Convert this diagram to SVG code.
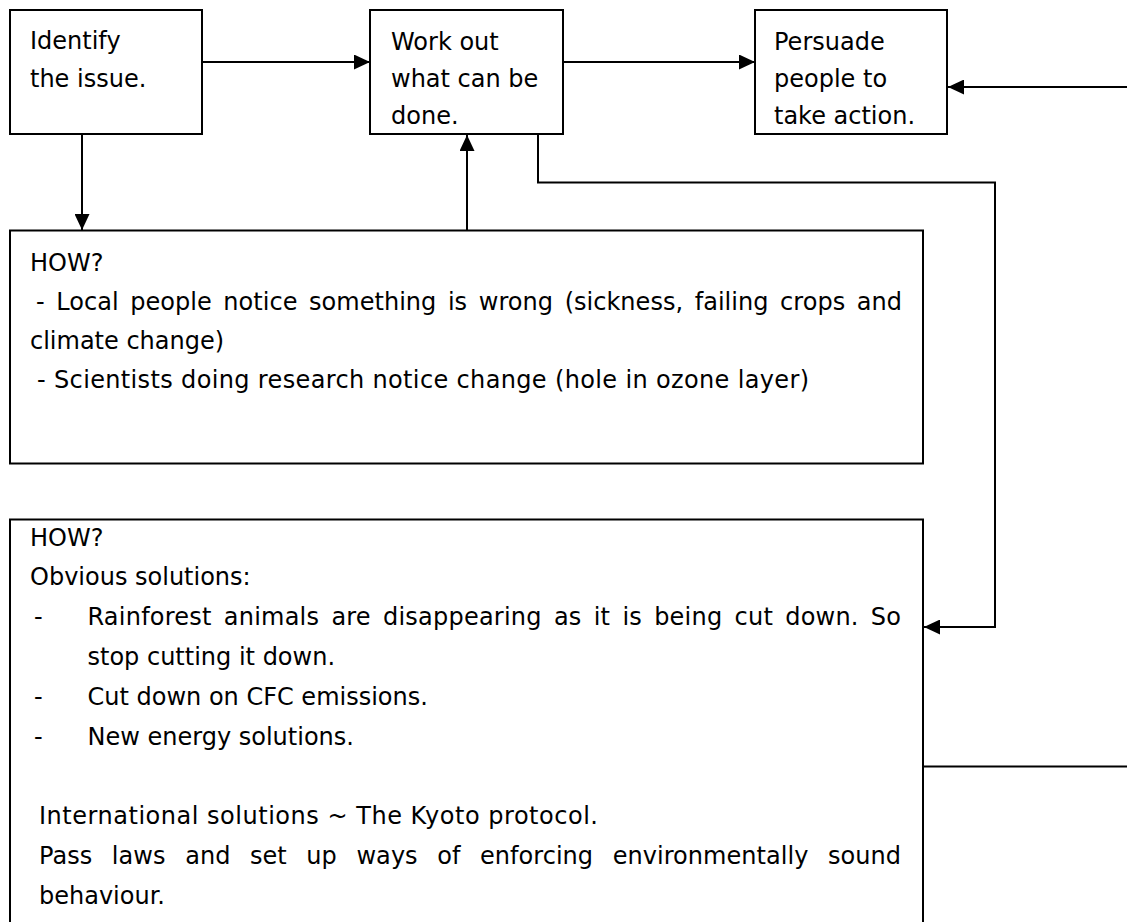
<svg xmlns="http://www.w3.org/2000/svg" width="1127" height="922" viewBox="0 0 1127 922">
  <style>
    .box { fill: #ffffff; stroke: #000000; stroke-width: 2; }
    .t { font-family: "DejaVu Sans", sans-serif; font-size: 24px; fill: #000000; }
    .c { fill: none; stroke: #000000; stroke-width: 2; }
  </style>
  <defs>
    <marker id="arr" viewBox="0 0 16 15" refX="16" refY="7.5" markerWidth="16" markerHeight="15" markerUnits="userSpaceOnUse" orient="auto">
      <path d="M0,0 L16,7.5 L0,15 z" fill="#000000"/>
    </marker>
  </defs>
  <rect width="1127" height="922" fill="#ffffff"/>

  <g id="identify">
    <rect class="box" x="10" y="10" width="192" height="124"/>
    <text class="t" x="30" y="49">Identify</text>
    <text class="t" x="30" y="87">the issue.</text>
  </g>

  <g id="work-out">
    <rect class="box" x="370" y="10" width="193" height="124"/>
    <text class="t" x="391" y="49.5">Work out</text>
    <text class="t" x="391" y="86.5">what can be</text>
    <text class="t" x="391" y="123.5">done.</text>
  </g>

  <g id="persuade">
    <rect class="box" x="755" y="10" width="192" height="124"/>
    <text class="t" x="774" y="49.5">Persuade</text>
    <text class="t" x="774" y="86.5">people to</text>
    <text class="t" x="774" y="123.5">take action.</text>
  </g>

  <g id="how-identify">
    <rect class="box" x="10" y="230.5" width="913" height="233"/>
    <text class="t" x="30" y="271">HOW?</text>
    <text class="t" x="36" y="310" word-spacing="4" textLength="866" lengthAdjust="spacing">- Local people notice something is wrong (sickness, failing crops and</text>
    <text class="t" x="30" y="349">climate change)</text>
    <text class="t" x="37" y="388" textLength="772" lengthAdjust="spacing">- Scientists doing research notice change (hole in ozone layer)</text>
  </g>

  <g id="how-solutions">
    <rect class="box" x="10" y="519.5" width="913" height="460"/>
    <text class="t" x="30" y="545.5">HOW?</text>
    <text class="t" x="30" y="585.3">Obvious solutions:</text>
    <text class="t" x="34" y="625.1">-</text>
    <text class="t" x="87.5" y="625.1" word-spacing="4.3" textLength="813.5" lengthAdjust="spacing">Rainforest animals are disappearing as it is being cut down. So</text>
    <text class="t" x="87.5" y="664.9">stop cutting it down.</text>
    <text class="t" x="34" y="704.7">-</text>
    <text class="t" x="87.5" y="704.7">Cut down on CFC emissions.</text>
    <text class="t" x="34" y="744.5">-</text>
    <text class="t" x="87.5" y="744.5">New energy solutions.</text>
    <text class="t" x="39" y="824.1" textLength="559" lengthAdjust="spacing">International solutions ~ The Kyoto protocol.</text>
    <text class="t" x="39" y="863.9" word-spacing="11.9" textLength="862" lengthAdjust="spacing">Pass laws and set up ways of enforcing environmentally sound</text>
    <text class="t" x="39" y="903.7">behaviour.</text>
  </g>

  <g id="connectors">
    <line class="c" x1="202" y1="62" x2="370" y2="62" marker-end="url(#arr)"/>
    <line class="c" x1="563" y1="62" x2="755" y2="62" marker-end="url(#arr)"/>
    <line class="c" x1="1127" y1="87" x2="948" y2="87" marker-end="url(#arr)"/>
    <line class="c" x1="82" y1="134" x2="82" y2="230" marker-end="url(#arr)"/>
    <line class="c" x1="467" y1="230" x2="467" y2="135" marker-end="url(#arr)"/>
    <polyline class="c" points="538,134 538,182.5 995,182.5 995,627 924,627" marker-end="url(#arr)"/>
    <line class="c" x1="923" y1="766.5" x2="1127" y2="766.5"/>
  </g>
</svg>
